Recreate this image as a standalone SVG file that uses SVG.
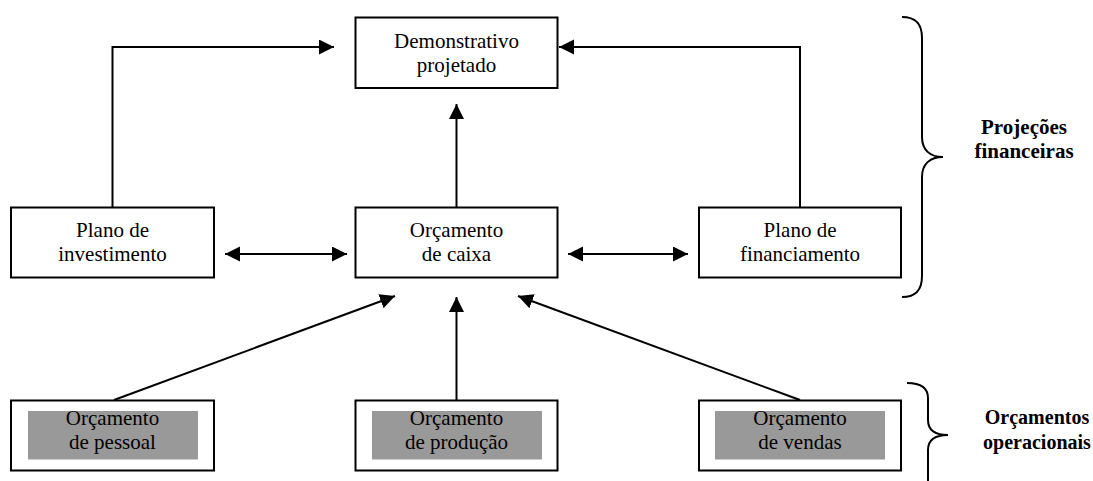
<svg xmlns="http://www.w3.org/2000/svg" width="1093" height="481" viewBox="0 0 1093 481">
  <style>
    .box { fill: #ffffff; stroke: #000000; stroke-width: 2; }
    .inner { fill: #999999; stroke: none; }
    .t { font-family: "Liberation Serif", "Times New Roman", serif; font-size: 21px; fill: #000000; text-anchor: middle; }
    .b { font-family: "Liberation Serif", "Times New Roman", serif; font-size: 21px; font-weight: bold; fill: #000000; text-anchor: middle; }
    .c { fill: none; stroke: #000000; stroke-width: 2; }
    .brace { fill: none; stroke: #000000; stroke-width: 2; }
  </style>
  <defs>
    <marker id="ah" markerUnits="userSpaceOnUse" markerWidth="16" markerHeight="16" refX="15" refY="7.5" orient="auto-start-reverse">
      <path d="M0,0 L15,7.5 L0,15 Z" fill="#000000"/>
    </marker>
  </defs>
  <rect width="1093" height="481" fill="#ffffff"/>

  <g id="connectors">
    <path class="c" d="M112.5,207 V47 H334" marker-end="url(#ah)"/>
    <path class="c" d="M800,207 V47 H559" marker-end="url(#ah)"/>
    <path class="c" d="M456.5,207 V104" marker-end="url(#ah)"/>
    <path class="c" d="M225,254 H347" marker-start="url(#ah)" marker-end="url(#ah)"/>
    <path class="c" d="M568,254 H688" marker-start="url(#ah)" marker-end="url(#ah)"/>
    <path class="c" d="M114,400 L395,296" marker-end="url(#ah)"/>
    <path class="c" d="M456.5,400 V297" marker-end="url(#ah)"/>
    <path class="c" d="M800,400 L518,296" marker-end="url(#ah)"/>
  </g>

  <g id="demonstrativo">
    <rect class="box" x="355.5" y="17.5" width="202" height="70.5"/>
    <text class="t" x="456.5" y="48">Demonstrativo</text>
    <text class="t" x="456.5" y="72">projetado</text>
  </g>

  <g id="plano-investimento">
    <rect class="box" x="11" y="207.5" width="203" height="70"/>
    <text class="t" x="112.5" y="237">Plano de</text>
    <text class="t" x="112.5" y="261">investimento</text>
  </g>

  <g id="orcamento-caixa">
    <rect class="box" x="355.5" y="207.5" width="202" height="70"/>
    <text class="t" x="456.5" y="237">Orçamento</text>
    <text class="t" x="456.5" y="261">de caixa</text>
  </g>

  <g id="plano-financiamento">
    <rect class="box" x="699" y="207.5" width="202" height="70"/>
    <text class="t" x="800" y="237">Plano de</text>
    <text class="t" x="800" y="261">financiamento</text>
  </g>

  <g id="orcamento-pessoal">
    <rect class="box" x="11" y="400.5" width="203" height="70"/>
    <rect class="inner" x="28" y="411" width="170" height="48.5"/>
    <text class="t" x="112.5" y="425">Orçamento</text>
    <text class="t" x="112.5" y="449">de pessoal</text>
  </g>

  <g id="orcamento-producao">
    <rect class="box" x="355.5" y="400.5" width="202" height="70"/>
    <rect class="inner" x="372" y="411" width="170" height="48.5"/>
    <text class="t" x="456.5" y="425">Orçamento</text>
    <text class="t" x="456.5" y="449">de produção</text>
  </g>

  <g id="orcamento-vendas">
    <rect class="box" x="699" y="400.5" width="202" height="70"/>
    <rect class="inner" x="715" y="411" width="170" height="48.5"/>
    <text class="t" x="800" y="425">Orçamento</text>
    <text class="t" x="800" y="449">de vendas</text>
  </g>

  <g id="projecoes-financeiras">
    <path class="brace" d="M902,17 C914,17 922,22 922,38 V137 C922,150 930,157 943,157 C930,157 922,164 922,177 V276 C922,292 914,297 902,297"/>
    <text class="b" x="1024" y="134">Projeções</text>
    <text class="b" x="1024" y="158">financeiras</text>
  </g>

  <g id="orcamentos-operacionais">
    <path class="brace" d="M907,383 C919,383 928,387 928,398 V420 C928,430 935,435 948,435 C935,435 928,440 928,450 V481"/>
    <text class="b" x="1037" y="424" style="font-size:20px">Orçamentos</text>
    <text class="b" x="1037" y="449" style="font-size:20px">operacionais</text>
  </g>
</svg>
